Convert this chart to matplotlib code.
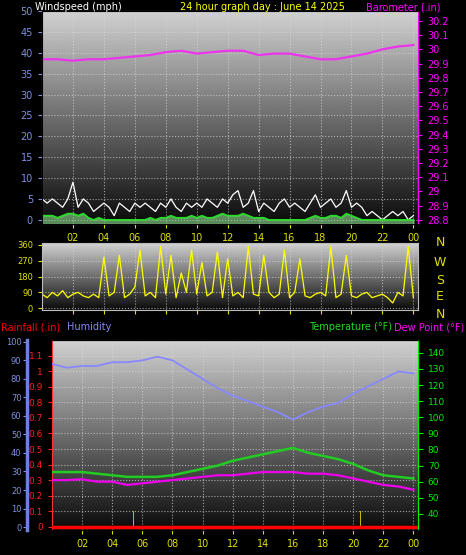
import numpy as np
import matplotlib.pyplot as plt

# hours (0 .. 24)
hours = list(range(25))
baro = [29.93, 29.93, 29.92, 29.93, 29.93, 29.94, 29.95, 29.96, 29.98, 29.99, 29.97, 29.98, 29.99,
        29.99, 29.96, 29.97, 29.97, 29.95, 29.93, 29.93, 29.95, 29.97, 30.00, 30.02, 30.03]
humidity = [88, 86, 87, 87, 89, 89, 90, 92, 90, 85, 80, 75, 71, 68, 65, 62, 58, 62, 65, 67, 72, 76, 80, 84, 83]
temperature = [66, 66, 66, 65, 64, 63, 63, 63, 64, 66, 68, 70, 73, 75, 77, 79, 81, 78, 76, 74, 71, 67, 64, 63, 62]
dewpoint = [61, 61, 61.5, 60, 60, 58, 59, 60, 61, 62, 63, 64, 64, 65, 66, 66, 66, 65, 65, 64, 62, 60, 58, 57, 55]

# wind, every 20 minutes
gust = [5, 4, 5, 4, 3, 5, 9, 3, 5, 4, 2, 3, 4, 3, 1, 4, 3, 2, 4, 3, 4, 3, 2, 4, 3, 5, 3, 2, 4, 3, 4, 3, 5, 4, 3, 5,
        4, 6, 7, 3, 4, 7, 2, 4, 3, 2, 4, 5, 3, 4, 3, 2, 4, 6, 3, 4, 5, 3, 4, 7, 3, 4, 3, 1, 2, 1, 0, 1, 2, 1, 2, 0, 1]
wind_avg = [1, 1, 1, 0.5, 1, 1.5, 1.5, 1, 1.5, 0.5, 0, 0.5, 0, 0, 0, 0, 0, 0, 0, 0, 0, 0.5, 0, 0.5, 0.5, 1, 0.5,
            0.5, 0.5, 1, 0.5, 1, 0.5, 0.5, 1, 1.5, 1, 1, 1, 1.5, 1, 0.5, 0.5, 0.5, 0, 0, 0, 0, 0, 0, 0, 0, 0.5, 1,
            0.5, 0.5, 1, 1, 0.5, 1.5, 1, 0.5, 0, 0, 0, 0, 0, 0, 0, 0, 0, 0, 0]
direction = [80, 60, 90, 70, 100, 60, 80, 90, 70, 60, 80, 60, 290, 70, 90, 300, 60, 80, 120, 330, 70, 90, 60, 350,
             80, 300, 60, 200, 90, 330, 80, 260, 70, 90, 320, 60, 280, 70, 90, 60, 350, 80, 70, 300, 90, 60, 80,
             330, 60, 90, 280, 70, 60, 80, 90, 70, 350, 60, 80, 300, 70, 60, 80, 90, 60, 70, 80, 60, 30, 90, 70,
             350, 60]
wind_t = [i / 3 for i in range(len(gust))]

rain_t = [5.4, 20.5]
rain_h = [0.1, 0.1]

tick_hours = list(range(2, 25, 2))
tick_labels = ["%02d" % (h % 24) for h in tick_hours]

W, H = 466, 555
fig = plt.figure(figsize=(W / 100, H / 100), dpi=100, facecolor="black")


def box(l, t, r, b):
    return [l / W, 1 - b / H, (r - l) / W, (b - t) / H]


def backdrop(ax):
    grad = np.linspace(0.82, 0.04, 256).reshape(-1, 1)
    ax.imshow(grad, cmap="gray", vmin=0, vmax=1, aspect="auto",
              extent=(0, 1, 0, 1), transform=ax.transAxes, zorder=0)
    ax.set_xlim(0, 24.3)
    ax.set_xticks(tick_hours)
    ax.grid(True, color="#d8d8d8", linestyle=":", linewidth=0.8, alpha=0.7)
    for s in ax.spines.values():
        s.set_color("#bbbbbb")
    ax.tick_params(colors="#e0e000", labelsize=7, length=3)


blue = "#6f7fe0"
ytick = "#8090e0"

# top: wind + barometer
ax1 = fig.add_axes(box(42, 11, 418, 224))
backdrop(ax1)
ax1.set_ylim(-1, 50)
ax1.set_yticks(range(0, 51, 5))
ax1.tick_params(axis="y", colors=ytick)
ax1.set_xticklabels(tick_labels, color="#e0e000")
ax1.plot(wind_t, gust, color="white", linewidth=0.9, zorder=3)
ax1.fill_between(wind_t, wind_avg, -1, color="#90e090", alpha=0.6, zorder=3)
ax1.plot(wind_t, wind_avg, color="#22dd22", linewidth=1.2, zorder=4)
axb = ax1.twinx()
axb.set_ylim(28.77, 30.27)
axb.set_yticks(np.round(np.arange(28.8, 30.21, 0.1), 1))
axb.set_yticklabels(["%g" % v for v in np.round(np.arange(28.8, 30.21, 0.1), 1)])
axb.tick_params(colors="#ff00ff", labelsize=7, length=3)
axb.spines["right"].set_color("#ff00ff")
axb.plot(hours, baro, color="#ee33ee", linewidth=1.6)
fig.text(35 / W, 1 - 7 / H, "Windspeed (mph)", color="white", fontsize=7, va="center")
fig.text(262 / W, 1 - 7 / H, "24 hour graph day : June 14 2025", color="#ffff00", fontsize=7,
         va="center", ha="center")
fig.text(440 / W, 1 - 7 / H, "Barometer (.in)", color="#ff00ff", fontsize=7, va="center", ha="right")

# middle: wind direction
ax2 = fig.add_axes(box(42, 243, 418, 310))
backdrop(ax2)
ax2.set_ylim(-10, 370)
ax2.set_yticks([0, 90, 180, 270, 360])
ax2.tick_params(axis="y", colors="#e0e000", labelsize=6)
ax2.set_xticklabels([])
ax2.plot(wind_t, direction, color="#ffff00", linewidth=0.9)
for y, s in zip([243, 262, 280, 297, 314], "NWSEN"):
    fig.text(440 / W, 1 - y / H, s, color="#e0e000", fontsize=9, ha="center", va="center")

# bottom: rain, humidity, temperature, dew point
ax3 = fig.add_axes(box(52, 340, 418, 530))
backdrop(ax3)
ax3.set_ylim(-0.02, 1.2)
ax3.set_yticks(np.round(np.arange(0, 1.11, 0.1), 1))
ax3.set_yticklabels(["%g" % v for v in np.round(np.arange(0, 1.11, 0.1), 1)])
ax3.tick_params(axis="y", colors="#ff2020", labelsize=6.5)
ax3.spines["left"].set_color("#ff3030")
ax3.set_xticklabels(tick_labels, color="#e0e000")
ax3.bar(rain_t, rain_h, width=0.08, color="#c8b400", zorder=3)
ax3.axhline(0, color="#ff0000", linewidth=2.5, zorder=4)

axh = ax3.twinx()
axh.yaxis.tick_left()
axh.spines["left"].set_position(("outward", 18))
axh.spines["left"].set_color(blue)
axh.spines["left"].set_linewidth(2.5)
axh.spines["right"].set_visible(False)
axh.set_ylim(-1.6, 101)
axh.set_yticks(range(0, 101, 10))
axh.tick_params(colors=ytick, labelsize=6, pad=1, length=3)
axh.plot(hours, humidity, color="#8888ff", linewidth=1.3)

axt = ax3.twinx()
axt.set_ylim(30, 148)
axt.set_yticks(range(40, 141, 10))
axt.tick_params(colors="#00ee00", labelsize=6.5)
axt.spines["right"].set_color("#00ee00")
axt.spines["left"].set_visible(False)
axt.plot(hours, temperature, color="#22cc22", linewidth=1.8)
axt.plot(hours, dewpoint, color="#ee00ee", linewidth=1.6)

fig.text(1 / W, 1 - 327 / H, "Rainfall (.in)", color="#ff0000", fontsize=7, va="center")
fig.text(67 / W, 1 - 327 / H, "Humidity", color="#8888ff", fontsize=7, va="center")
fig.text(392 / W, 1 - 327 / H, "Temperature (°F)", color="#22dd22", fontsize=7, va="center", ha="right")
fig.text(464 / W, 1 - 327 / H, "Dew Point (°F)", color="#ff00ff", fontsize=7, va="center", ha="right")

fig.savefig("out.png", dpi=100, facecolor="black")
